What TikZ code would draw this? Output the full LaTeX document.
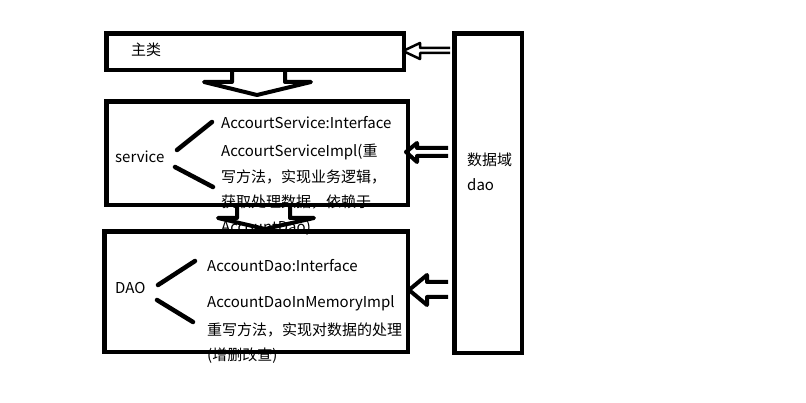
\documentclass[tikz,border=0pt]{standalone}
\usepackage{fontspec}
\setmainfont{Noto Sans CJK SC}
\begin{document}
\begin{tikzpicture}[x=1pt,y=-1pt,
  box/.style={draw=black,line width=4.5pt,anchor=north west,inner sep=0pt},
  blk/.style={draw=black,line width=4pt,line join=round},
  thin/.style={draw=black,line width=2.5pt,line join=round},
  tx/.style={anchor=west,inner sep=0pt,font=\fontsize{15}{17}\selectfont},
  conn/.style={draw=black,line width=4.5pt,line cap=round}]
\fill[white] (0,0) rectangle (806,403);
\useasboundingbox (0,0) rectangle (806,403);
% boxes
\node[box,minimum width=297.5pt,minimum height=36.5pt] (main) at (104.25,31.25) {};
\node[box,minimum width=301.5pt,minimum height=103.5pt] (svc) at (104.25,99.25) {};
\node[box,minimum width=303.5pt,minimum height=120.5pt] (dao) at (102.25,229.25) {};
\node[box,minimum width=67.5pt,minimum height=319.5pt] (data) at (452.25,31.25) {};
% texts
\node[tx] (tmain) at (131,50) {主类};
\node[tx] (tsvc) at (115,157) {service};
\node[tx] (s1) at (221,123) {AccourtService:Interface};
\node[tx] (s2) at (221,152) {AccourtServiceImpl(重};
\node[tx] (s3) at (221,177) {写方法，实现业务逻辑，};
\node[tx] (s4) at (221,202) {获取处理数据，依赖于};
\node[tx] (s5) at (221,228) {AccountDao)};
\node[tx] (tdao) at (115,288) {DAO};
\node[tx] (d1) at (207,266) {AccountDao:Interface};
\node[tx] (d2) at (207,303) {AccountDaoInMemoryImpl};
\node[tx] (d3) at (207,330) {重写方法，实现对数据的处理};
\node[tx] (d4) at (207,356) {(增删改查)};
\node[tx] (t1) at (467,160) {数据域};
\node[tx] (t2) at (467,185) {dao};
% branch lines
\coordinate (a1) at (177,150); \coordinate (a2) at (212,122);
\coordinate (b1) at (175,167); \coordinate (b2) at (213,187);
\draw[conn] (a1) -- (a2);
\draw[conn] (b1) -- (b2);
\coordinate (c1) at (158,285); \coordinate (c2) at (195,261);
\coordinate (e1) at (157,300); \coordinate (e2) at (193,322);
\draw[conn] (c1) -- (c2);
\draw[conn] (e1) -- (e2);
% down block arrows
\draw[blk] (232,69) -- (232,82) -- (204,82) -- (257,95) -- (311,82) -- (285,82) -- (285,69);
\draw[blk] (237,204) -- (237,218) -- (218,218) -- (265,229) -- (314,218) -- (290,218) -- (290,204);
% left block arrows
\draw[thin] (450,48) -- (420,48) -- (420,43) -- (403,51) -- (420,59) -- (420,53) -- (450,53);
\draw[blk] (448,148) -- (417,148) -- (417,143) -- (406,152) -- (417,162) -- (417,156) -- (448,156);
\draw[blk] (448,282) -- (427,282) -- (427,275) -- (409,290) -- (427,305) -- (427,297) -- (448,297);
\end{tikzpicture}
\end{document}
